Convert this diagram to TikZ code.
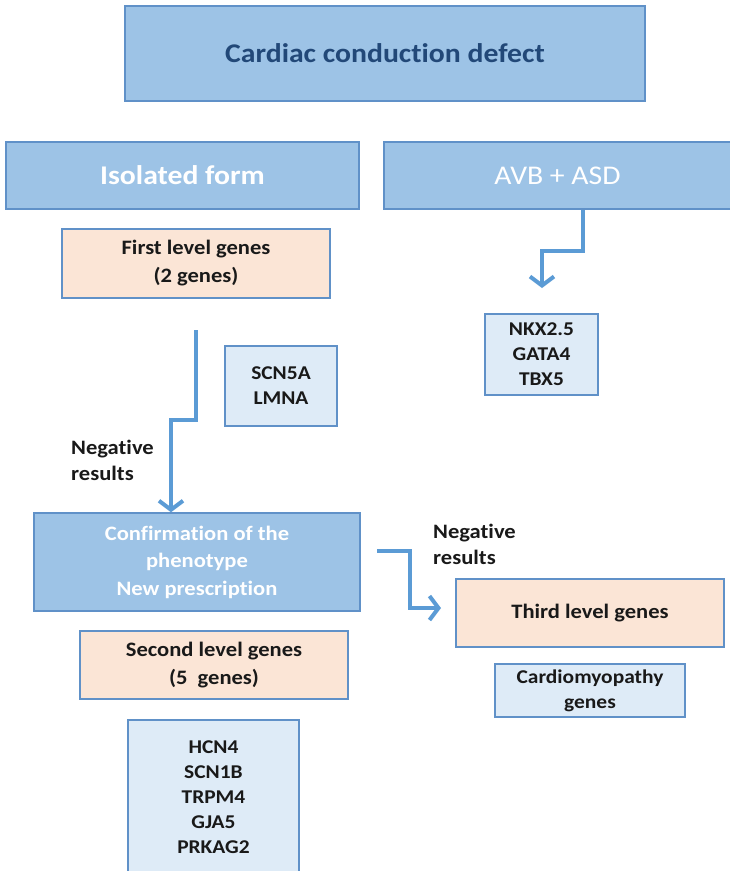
\documentclass[tikz,border=0pt]{standalone}
\usepackage{fontspec}
\setmainfont{Carlito}[FakeStretch=1.1,RawFeature={-liga;-clig;-calt;-rlig;-dlig}]
\usetikzlibrary{arrows.meta}
\definecolor{boxblue}{RGB}{157,195,230}
\definecolor{boxline}{RGB}{96,145,200}
\definecolor{boxpeach}{RGB}{251,229,214}
\definecolor{boxpale}{RGB}{222,235,247}
\definecolor{flowblue}{RGB}{91,155,213}
\definecolor{titleblue}{RGB}{34,72,120}
\tikzset{
  box/.style = {align=center, inner sep=0pt, draw=boxline, line width=1.5pt},
  box_d/.style = {box, fill=boxblue, text=white, font=\fontsize{20.5}{27.5}\selectfont\bfseries},
  box_p/.style = {box, fill=boxpeach, text=black!90, font=\fontsize{20.5}{28}\selectfont\bfseries},
  box_l/.style = {box, fill=boxpale, text=black!90, font=\fontsize{19.5}{25}\selectfont\bfseries},
  note/.style = {anchor=west, align=left, inner sep=0pt, text=black!90, font=\fontsize{20.5}{26}\selectfont\bfseries},
  flow/.style = {draw=flowblue, line width=4pt, -{Straight Barb[length=9pt,width=24pt]}}
}
\begin{document}
\begin{tikzpicture}[x=1pt,y=-1pt]
\useasboundingbox (0,0) rectangle (729,871);
% top row
\node [box_d, minimum width=520pt, minimum height=95pt, text=titleblue, font=\fontsize{27}{30}\selectfont\bfseries] (cardiac) at (385,53.5) {Cardiac conduction defect};
\node [box_d, minimum width=353pt, minimum height=67pt, font=\fontsize{27}{30}\selectfont\bfseries] (iso) at (182.5,175.5) {Isolated form};
\node [box_d, minimum width=347pt, minimum height=67pt, font=\fontsize{27}{30}\selectfont] (avb) at (557.5,175.5) {AVB + ASD};
% isolated form branch
\node [box_p, minimum width=268pt, minimum height=69pt] (first) at (196,263.5) {First level genes\\(2 genes)};
\node [box_l, minimum width=112pt, minimum height=80pt] (scn) at (281,386) {SCN5A\\LMNA};
\node [note] (neg1) at (71,460) {Negative\\results};
\node [box_d, minimum width=326pt, minimum height=98pt] (conf) at (197,562) {Confirmation of the\\phenotype\\New prescription};
\node [box_p, minimum width=268pt, minimum height=68pt] (second) at (214,665) {Second level genes\\(5~ genes)};
\node [box_l, minimum width=171pt, minimum height=154pt] (hcn) at (213.5,797) {HCN4\\SCN1B\\TRPM4\\GJA5\\PRKAG2};
% negative results
\node [note] (neg2) at (433,544.5) {Negative\\results};
\node [box_p, minimum width=268pt, minimum height=68pt] (third) at (590,613) {Third level genes};
\node [box_l, minimum width=190pt, minimum height=53pt] (cardio) at (590,690.5) {Cardiomyopathy\\genes};
% AVB + ASD branch
\node [box_l, minimum width=113pt, minimum height=81pt] (nkx) at (541.5,354.5) {NKX2.5\\GATA4\\TBX5};
% arrows
\coordinate (s1) at (196,330);
\coordinate (s2) at (377,551);
\coordinate (e2) at (441,608);
\coordinate (e3) at (542,288);
\draw [flow] (s1) -- ++(0,90) -| ([xshift=-26pt]conf.north);
\draw [flow] (s2) -- ++(33,0) |- (e2);
\draw [flow] ([xshift=25.5pt]avb.south) -- ++(0,41) -| (e3);
\end{tikzpicture}
\end{document}
